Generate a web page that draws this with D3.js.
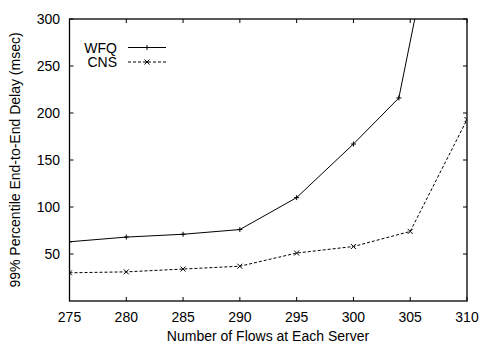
<!DOCTYPE html>
<html><head><meta charset="utf-8">
<script src="https://cdn.jsdelivr.net/npm/d3@7"></script>
<style>body{margin:0;background:#fff}svg{display:block}text{font-family:"Liberation Sans",Arial,sans-serif;fill:#000}</style>
</head><body>
<script>
const xTicks = [275, 280, 285, 290, 295, 300, 305, 310];
const yTicks = [50, 100, 150, 200, 250, 300];
const wfqX = [275, 280, 285, 290, 295, 300, 304, 306];
const wfqY = [63, 68, 71, 76, 110, 167, 216, 336];
const cnsX = [275, 280, 285, 290, 295, 300, 305, 310];
const cnsY = [30, 31, 34, 37, 51, 58, 74, 193];
const seriesNames = ["WFQ", "CNS"];

const W = 482, H = 346;
const L = 69.5, R = 467, T = 19, B = 301;
const FS = 14;
const svg = d3.select("body").append("svg").attr("width", W).attr("height", H);
const x = d3.scaleLinear().domain([275, 310]).range([L, R]);
const y = d3.scaleLinear().domain([0, 300]).range([B, T]);

svg.append("clipPath").attr("id", "clip").append("rect")
  .attr("x", L).attr("y", T).attr("width", R - L).attr("height", B - T);

const tl = 4;
const g = svg.append("g");
xTicks.forEach(v => {
  g.append("line").attr("x1", x(v)).attr("x2", x(v)).attr("y1", B).attr("y2", B - tl).attr("stroke", "#000");
  g.append("line").attr("x1", x(v)).attr("x2", x(v)).attr("y1", T).attr("y2", T + tl).attr("stroke", "#000");
  g.append("text").attr("x", x(v)).attr("y", 322).attr("text-anchor", "middle").attr("font-size", FS).text(v);
});
yTicks.forEach(v => {
  g.append("line").attr("x1", L).attr("x2", L + tl).attr("y1", y(v)).attr("y2", y(v)).attr("stroke", "#000");
  g.append("line").attr("x1", R).attr("x2", R - tl).attr("y1", y(v)).attr("y2", y(v)).attr("stroke", "#000");
  g.append("text").attr("x", 60).attr("y", y(v)).attr("dy", "0.36em").attr("text-anchor", "end").attr("font-size", FS).text(v);
});
g.append("rect").attr("x", L).attr("y", T).attr("width", R - L).attr("height", B - T)
  .attr("fill", "none").attr("stroke", "#000").attr("stroke-width", 1.3);

const line = d3.line().x(d => x(d[0])).y(d => y(d[1]));
const wfq = wfqX.map((v, i) => [v, wfqY[i]]);
const cns = cnsX.map((v, i) => [v, cnsY[i]]);
const plot = svg.append("g").attr("clip-path", "url(#clip)");
plot.append("path").datum(wfq).attr("d", line).attr("fill", "none").attr("stroke", "#000").attr("stroke-width", 1);
plot.append("path").datum(cns).attr("d", line).attr("fill", "none").attr("stroke", "#000").attr("stroke-width", 1).attr("stroke-dasharray", "3,2");

const ms = 2.5;
function plus(sel, cx, cy) {
  sel.append("path").attr("d", `M${cx - ms},${cy}H${cx + ms}M${cx},${cy - ms}V${cy + ms}`).attr("stroke", "#000").attr("stroke-width", 1);
}
function cross(sel, cx, cy) {
  sel.append("path").attr("d", `M${cx - ms},${cy - ms}L${cx + ms},${cy + ms}M${cx - ms},${cy + ms}L${cx + ms},${cy - ms}`).attr("stroke", "#000").attr("stroke-width", 1);
}
const mk = svg.append("g").attr("clip-path", "url(#clip)");
wfq.forEach(d => plus(mk, x(d[0]), y(d[1])));
cns.forEach(d => cross(mk, x(d[0]), y(d[1])));

// legend
const lg = svg.append("g");
const ly = [47.5, 62];
seriesNames.forEach((n, i) => {
  lg.append("text").attr("x", 117).attr("y", ly[i]).attr("dy", "0.36em").attr("text-anchor", "end").attr("font-size", FS).text(n);
  const ln = lg.append("line").attr("x1", 128).attr("x2", 166).attr("y1", ly[i]).attr("y2", ly[i]).attr("stroke", "#000");
  if (i === 1) ln.attr("stroke-dasharray", "3,2");
});
plus(lg, 147, ly[0]);
cross(lg, 147, ly[1]);

// axis titles
svg.append("text").attr("x", 268).attr("y", 341).attr("text-anchor", "middle").attr("font-size", FS).text("Number of Flows at Each Server");
svg.append("text").attr("transform", "translate(15,160) rotate(-90)").attr("text-anchor", "middle").attr("dy", "0.36em").attr("font-size", FS).text("99% Percentile End-to-End Delay (msec)");
</script>
</body></html>
